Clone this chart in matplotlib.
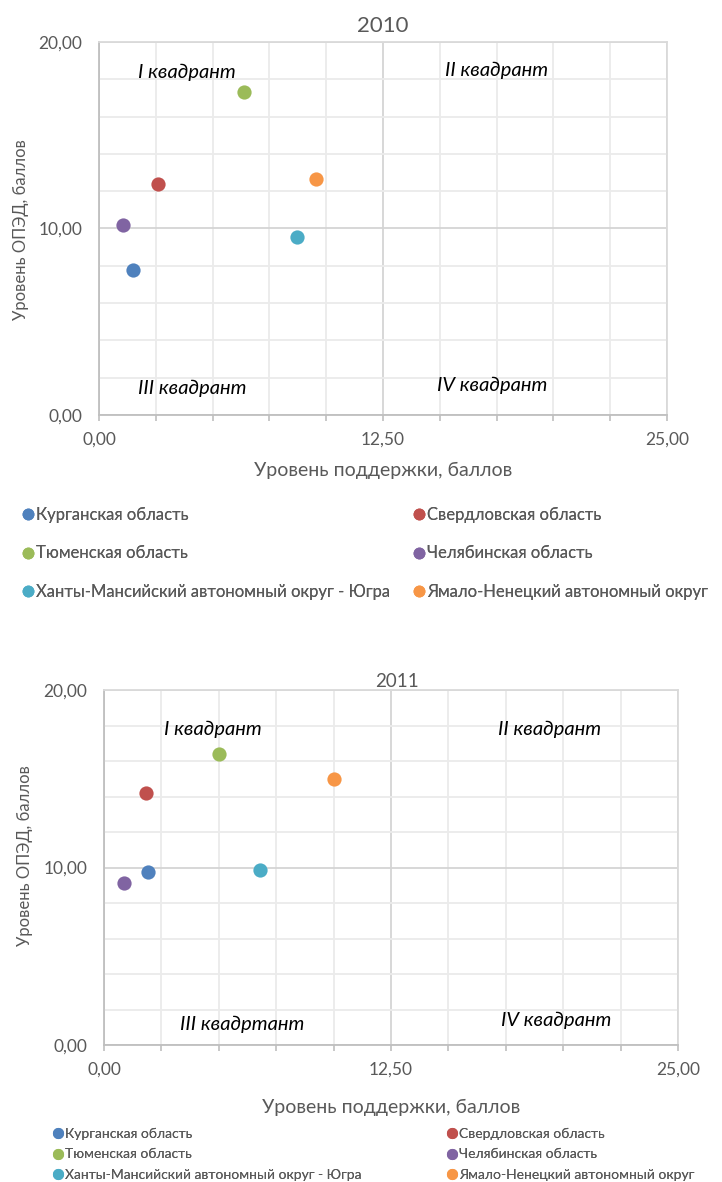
import numpy as np
import matplotlib
matplotlib.use("Agg")
import matplotlib.pyplot as plt
from matplotlib.ticker import MultipleLocator, FuncFormatter
from matplotlib.lines import Line2D

plt.rcParams['font.family'] = ['Lato', 'DejaVu Sans']

# Data
regions = ["Курганская область", "Свердловская область", "Тюменская область",
           "Челябинская область", "Ханты-Мансийский автономный округ - Югра",
           "Ямало-Ненецкий автономный округ"]
colors = ["#4F81BD", "#C0504D", "#9BBB59", "#8064A2", "#4BACC6", "#F79646"]

x_2010 = [1.50, 2.60, 6.38, 1.06, 8.71, 9.55]
y_2010 = [7.77, 12.39, 17.32, 10.19, 9.54, 12.65]
x_2011 = [1.93, 1.83, 5.00, 0.85, 6.80, 10.02]
y_2011 = [9.75, 14.20, 16.40, 9.13, 9.86, 15.00]

quads_2010 = ["I квадрант", "II квадрант", "III квадрант", "IV квадрант"]
quads_2011 = ["I квадрант", "II квадрант", "III квадртант", "IV квадрант"]

xlabel = "Уровень поддержки, баллов"
ylabel = "Уровень ОПЭД, баллов"

grey = "#595959"


def comma(v, pos):
    return f"{v:.2f}".replace(".", ",")


def draw(ax, xs, ys, title, quads, qpos, title_kw, xl_fs, xl_y, yl_fs, yl_xy):
    ax.set_xlim(0, 25)
    ax.set_ylim(0, 20)
    ax.xaxis.set_major_locator(MultipleLocator(12.5))
    ax.xaxis.set_minor_locator(MultipleLocator(2.5))
    ax.yaxis.set_major_locator(MultipleLocator(10))
    ax.yaxis.set_minor_locator(MultipleLocator(2))
    ax.xaxis.set_major_formatter(FuncFormatter(comma))
    ax.yaxis.set_major_formatter(FuncFormatter(comma))
    ax.grid(which='minor', color='#EBEBEB', lw=1.3)
    ax.grid(which='major', color='#D4D4D4', lw=1.3)
    ax.set_axisbelow(True)
    for s in ax.spines.values():
        s.set_color('#DADADA')
        s.set_linewidth(1.3)
    ax.spines['left'].set_color('#BFBFBF')
    ax.spines['bottom'].set_color('#BFBFBF')
    ax.tick_params(axis='x', which='both', direction='out', length=4, width=1.2,
                   color='#BFBFBF', labelcolor=grey, labelsize=12.5, pad=8)
    ax.tick_params(axis='y', which='both', length=0, labelcolor=grey,
                   labelsize=12.5, pad=12)

    for x, y, c in zip(xs, ys, colors):
        ax.scatter(x, y, s=105, color=c, linewidths=0, zorder=3)

    for txt, (qx, qy) in zip(quads, qpos):
        ax.text(qx, qy, txt, ha='center', va='center', style='italic',
                fontsize=14.5, color='black')

    ax.set_title(title, color=grey, **title_kw)
    ax.set_xlabel(xlabel, color=grey, fontsize=xl_fs)
    ax.set_ylabel(ylabel, color=grey, fontsize=yl_fs)
    ax.xaxis.set_label_coords(0.5, xl_y)
    ax.yaxis.set_label_coords(*yl_xy)


def legend(fig, x1, x2, ytop, fs, spacing, ms):
    handles = [Line2D([], [], marker='o', ls='', color=c, markersize=ms) for c in colors]
    for cols, xa in (([0, 2, 4], x1), ([1, 3, 5], x2)):
        lg = fig.legend([handles[i] for i in cols], [regions[i] for i in cols],
                        loc='upper left', bbox_to_anchor=(xa / 722, 1 - ytop / 1182),
                        frameon=False, handlelength=0.7, handletextpad=0.15,
                        labelspacing=spacing, borderpad=0, borderaxespad=0,
                        fontsize=fs, labelcolor=grey)
        fig.add_artist(lg)


fig = plt.figure(figsize=(7.22, 11.82), dpi=100)

ax1 = fig.add_axes([99 / 722, 1 - 415 / 1182, 568 / 722, 373 / 1182])
draw(ax1, x_2010, y_2010, "2010", quads_2010,
     [(3.87, 18.4), (17.5, 18.5), (4.1, 1.45), (17.3, 1.6)],
     dict(fontsize=16, pad=7), 14, -0.126, 12, (-0.123, 0.496))
legend(fig, 22, 413, 507, 12, 1.34, 7.5)

ax2 = fig.add_axes([104 / 722, 1 - 1045 / 1182, 574 / 722, 355 / 1182])
draw(ax2, x_2011, y_2011, "2011", quads_2011,
     [(4.75, 17.8), (19.4, 17.8), (6.04, 1.18), (19.7, 1.4)],
     dict(fontsize=13.5, pad=1, x=0.51), 14, -0.153, 12, (-0.124, 0.535))
legend(fig, 53, 447, 1128, 10, 0.6, 7)

fig.savefig("out.png", dpi=100)
